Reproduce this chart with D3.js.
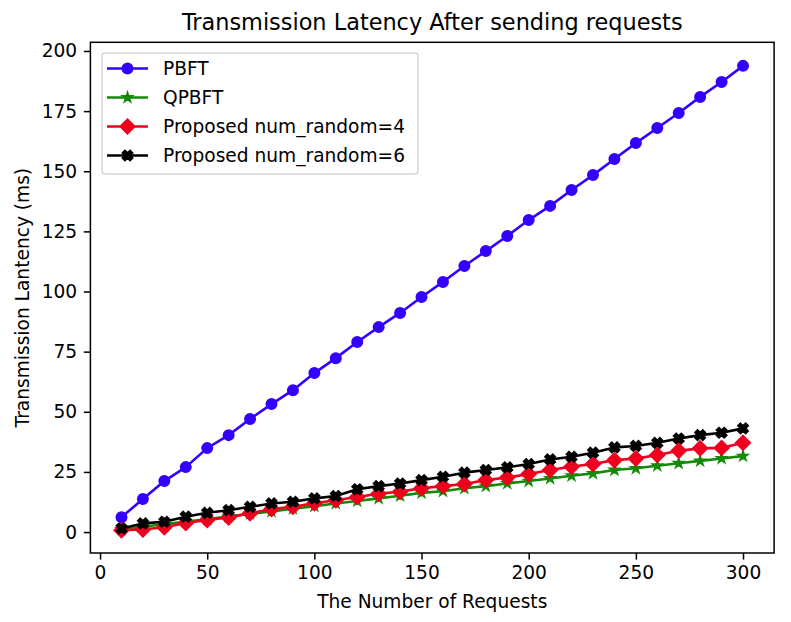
<!DOCTYPE html>
<html><head><meta charset="utf-8">
<script src="https://cdn.jsdelivr.net/npm/d3@7"></script>
<style>body{margin:0;background:#fff;} text{font-family:"DejaVu Sans",sans-serif;fill:#000;}</style>
</head><body>
<svg id="chart" width="791" height="622"></svg>
<script>
const requests = [10,20,30,40,50,60,70,80,90,100,110,120,130,140,150,160,170,180,190,200,210,220,230,240,250,260,270,280,290,300];
const pbft = [6.2,13.7,21.2,27.0,34.9,40.3,47.0,53.2,59.0,66.1,72.3,79.0,85.2,91.1,97.7,104.0,110.6,116.8,123.1,129.7,135.6,142.2,148.4,155.1,161.7,168.0,174.2,180.9,187.1,193.8];
const qpbft = [1.1,2.2,3.3,4.3,5.4,6.5,7.6,8.6,9.7,10.8,11.9,12.9,14.0,15.1,16.3,17.0,18.2,19.1,20.2,21.2,22.3,23.4,24.4,25.8,26.5,27.6,28.6,29.6,30.6,31.6];
const proposed4 = [0.8,1.1,2.0,3.8,5.0,6.1,7.8,9.6,10.5,12.0,13.2,14.6,15.9,16.8,18.2,19.1,20.0,21.6,22.7,24.1,25.8,27.2,28.3,29.9,30.6,32.0,33.8,34.8,35.0,37.1];
const proposed6 = [1.5,3.6,4.3,6.4,8.0,9.1,10.5,11.9,12.6,14.0,15.0,17.8,19.1,20.2,21.6,23.0,24.7,25.8,26.9,28.3,30.2,31.3,33.0,35.2,35.8,37.1,38.9,40.3,41.3,43.1];
const seriesNames = ["PBFT","QPBFT","Proposed num_random=4","Proposed num_random=6"];
const xTicks = [0,50,100,150,200,250,300];
const yTicks = [0,25,50,75,100,125,150,175,200];

const series = [
  {name: seriesNames[0], values: pbft, color: "#3300ff", marker: "o"},
  {name: seriesNames[1], values: qpbft, color: "#168a08", marker: "*"},
  {name: seriesNames[2], values: proposed4, color: "#f0001e", marker: "D"},
  {name: seriesNames[3], values: proposed6, color: "#000000", marker: "X"}
];

const svg = d3.select("#chart");
const L = 90.4, R = 774.1, T = 42.3, B = 553;
const x = d3.scaleLinear().domain([-4.5, 314.5]).range([L, R]);
const y = d3.scaleLinear().domain([-8.7, 203.6]).range([B, T]);
const ms = 10.4, lw = 2.6, mew = 1.6;

function markerPath(type) {
  const s = ms;
  if (type === "o") return d3.symbol(d3.symbolCircle, Math.PI * (s/2) * (s/2))();
  if (type === "*") {
    const ro = s/2, ri = ro * 0.381966; const pts = [];
    for (let i = 0; i < 10; i++) {
      const r = i % 2 === 0 ? ro : ri; const a = -Math.PI/2 + i * Math.PI/5;
      pts.push([r*Math.cos(a), r*Math.sin(a)]);
    }
    return "M" + pts.map(p => p.join(",")).join("L") + "Z";
  }
  if (type === "D") { const h = s * Math.SQRT2 / 2; return `M0,${-h}L${h},0L0,${h}L${-h},0Z`; }
  if (type === "X") {
    const P = [[-1,-2],[0,-1],[1,-2],[2,-1],[1,0],[2,1],[1,2],[0,1],[-1,2],[-2,1],[-1,0],[-2,-1]];
    return "M" + P.map(p => [p[0]*s/4, p[1]*s/4].join(",")).join("L") + "Z";
  }
}

const g = svg.append("g");
const yAxis = d3.axisLeft(y).tickValues(yTicks).tickSize(6.6).tickPadding(6.6).tickFormat(d3.format("d"));
const gy = g.append("g").attr("transform", `translate(${L},0)`).call(yAxis);
const xAxis = d3.axisBottom(x).tickValues(xTicks).tickSize(6.6).tickPadding(6.6).tickFormat(d3.format("d"));
const gx = g.append("g").attr("transform", `translate(0,${B})`).call(xAxis);
[gx, gy].forEach(a => {
  a.select(".domain").remove();
  a.selectAll(".tick line").attr("stroke", "#000").attr("stroke-width", 1.5);
  a.selectAll(".tick text").attr("font-size", 18.6).attr("font-family", "DejaVu Sans").attr("fill", "#000");
});

const line = d3.line().x((d, i) => x(requests[i])).y(d => y(d));
const plot = svg.append("g");
series.forEach(s => {
  plot.append("path").attr("d", line(s.values)).attr("fill", "none")
    .attr("stroke", s.color).attr("stroke-width", lw).attr("stroke-linejoin", "round").attr("stroke-linecap", "square");
  plot.selectAll(null).data(s.values).enter().append("path")
    .attr("d", markerPath(s.marker))
    .attr("transform", (d, i) => `translate(${x(requests[i])},${y(d)})`)
    .attr("fill", s.color).attr("stroke", s.color).attr("stroke-width", mew).attr("stroke-linejoin", "miter");
});

svg.append("rect").attr("x", L).attr("y", T).attr("width", R - L).attr("height", B - T)
  .attr("fill", "none").attr("stroke", "#000").attr("stroke-width", 1.5);

const lg = svg.append("g");
lg.append("rect").attr("x", 102).attr("y", 53).attr("width", 316).attr("height", 121).attr("rx", 3)
  .attr("fill", "#fff").attr("fill-opacity", 0.8).attr("stroke", "#d6d6d6").attr("stroke-width", 1.5);
const rowY = [68.5, 97.5, 126.5, 155.5];
series.forEach((s, i) => {
  const yy = rowY[i];
  lg.append("line").attr("x1", 107).attr("x2", 148).attr("y1", yy).attr("y2", yy)
    .attr("stroke", s.color).attr("stroke-width", lw);
  lg.append("path").attr("d", markerPath(s.marker)).attr("transform", `translate(127.5,${yy})`)
    .attr("fill", s.color).attr("stroke", s.color).attr("stroke-width", mew);
  lg.append("text").attr("x", 163).attr("y", yy).attr("dy", "0.36em").attr("font-size", 18.6).text(s.name);
});

svg.append("text").attr("x", (L + R) / 2).attr("y", 30).attr("text-anchor", "middle").attr("font-size", 22.4)
  .text("Transmission Latency After sending requests");
svg.append("text").attr("x", (L + R) / 2).attr("y", 608).attr("text-anchor", "middle").attr("font-size", 18.6)
  .text("The Number of Requests");
svg.append("text").attr("transform", `translate(29,${(T + B) / 2}) rotate(-90)`).attr("text-anchor", "middle").attr("font-size", 18.6)
  .text("Transmission Lantency (ms)");
</script>
</body></html>
